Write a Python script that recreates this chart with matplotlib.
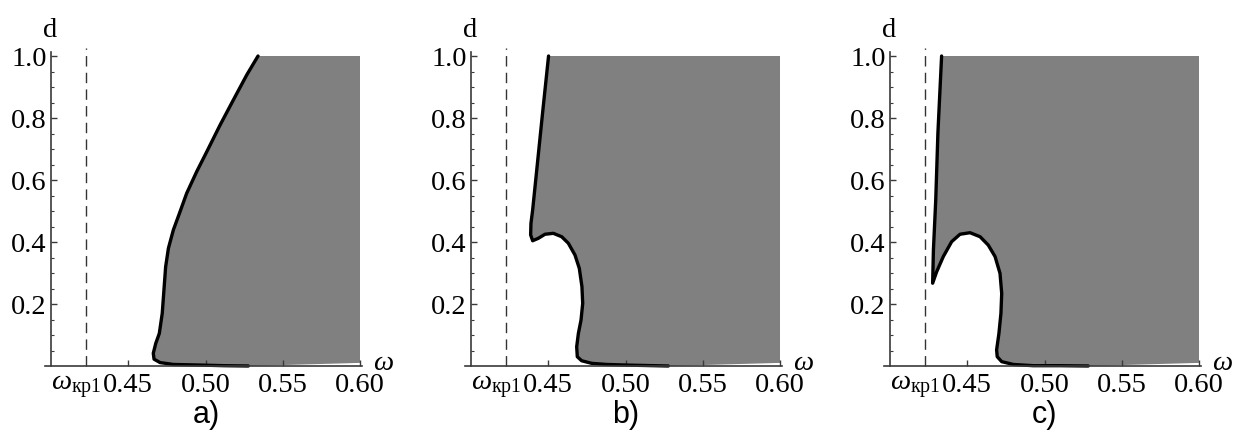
import matplotlib
matplotlib.use("Agg")
import matplotlib.pyplot as plt

plt.rcParams['font.family'] = ['Liberation Serif', 'DejaVu Serif']
plt.rcParams['mathtext.fontset'] = 'custom'
plt.rcParams['mathtext.rm'] = 'Liberation Serif'
plt.rcParams['mathtext.it'] = 'Liberation Serif:italic'

# critical frequency (dashed line)
omega_cr1 = 0.4225
x_ticks = [0.45, 0.50, 0.55, 0.60]
y_ticks = [0.2, 0.4, 0.6, 0.8, 1.0]
panel_labels = ['a)', 'b)', 'c)']

# stability boundary, panel a
w_a = [0.534, 0.5267, 0.5180, 0.5094, 0.5008, 0.4943, 0.4878, 0.4831, 0.4792,
       0.4760, 0.4742, 0.4731, 0.4720, 0.4701, 0.4678, 0.4662, 0.4667, 0.4706,
       0.4792, 0.4964, 0.5120, 0.5277]
d_a = [1.0, 0.939, 0.858, 0.777, 0.691, 0.627, 0.557, 0.492, 0.439,
       0.380, 0.320, 0.245, 0.170, 0.105, 0.073, 0.041, 0.022, 0.011,
       0.005, 0.003, 0.001, 0.0]

# stability boundary, panel b
w_b = [0.4502, 0.4463, 0.4399, 0.4388, 0.4386, 0.4399, 0.4436, 0.4479, 0.4533,
       0.4587, 0.4630, 0.4673, 0.4701, 0.4718, 0.4723, 0.4712, 0.4695, 0.4684,
       0.4688, 0.4716, 0.4781, 0.4878, 0.5008, 0.5094, 0.5277]
d_b = [1.0, 0.815, 0.503, 0.460, 0.423, 0.404, 0.412, 0.425, 0.428,
       0.417, 0.396, 0.358, 0.315, 0.256, 0.202, 0.148, 0.105, 0.062,
       0.030, 0.017, 0.0086, 0.005, 0.003, 0.002, 0.0]

# stability boundary, panel c
w_c = [0.4334, 0.4310, 0.4296, 0.4281, 0.4276, 0.4302, 0.4345, 0.4399, 0.4453,
       0.4518, 0.4583, 0.4636, 0.4680, 0.4712, 0.4723, 0.4718, 0.4705, 0.4690,
       0.4694, 0.4723, 0.4798, 0.4927, 0.5100, 0.5283]
d_c = [1.0, 0.751, 0.535, 0.374, 0.267, 0.304, 0.353, 0.401, 0.425,
       0.430, 0.417, 0.390, 0.353, 0.299, 0.234, 0.170, 0.105, 0.052,
       0.030, 0.014, 0.005, 0.001, 0.001, 0.0]

curves = [(w_a, d_a), (w_b, d_b), (w_c, d_c)]

W, H = 1236, 432
fig = plt.figure(figsize=(W / 100, H / 100), dpi=100)
fig.patch.set_facecolor('white')

px_x = 1545.0   # pixels per unit omega
px_y = 310.0    # pixels per unit d
origins = [51, 471, 890]
xlim = (0.385, 0.625)
ylim = (-0.03, 1.08)

serif = 'Liberation Serif'
tick_fs = 20.5
axis_col = '#3a3a3a'
fill_col = '#808080'

for (w, d), ox, lab in zip(curves, origins, panel_labels):
    left = ox - (0.40 - xlim[0]) * px_x
    width = (xlim[1] - xlim[0]) * px_x
    bottom_top = 366 + (0 - ylim[0]) * px_y
    height = (ylim[1] - ylim[0]) * px_y
    ax = fig.add_axes([left / W, (H - bottom_top) / H, width / W, height / H])
    ax.set_xlim(*xlim)
    ax.set_ylim(*ylim)
    ax.patch.set_alpha(0)

    # unstable region to the right of the boundary
    poly_w = list(w) + [0.60, 0.60]
    poly_d = list(d) + [0.01, 1.0]
    ax.fill(poly_w, poly_d, color=fill_col, lw=0, zorder=1)
    ax.plot(w, d, color='black', lw=2.4, solid_capstyle='round',
            solid_joinstyle='round', zorder=3)

    # critical frequency
    ax.plot([omega_cr1, omega_cr1], [0, 1.026], color='#333333', lw=1.0,
            dashes=(7.5, 4.5), zorder=2)

    for s in ['top', 'right']:
        ax.spines[s].set_visible(False)
    ax.spines['left'].set_position(('data', 0.40))
    ax.spines['bottom'].set_position(('data', 0.0))
    ax.spines['left'].set_bounds(0.0, 1.013)
    ax.spines['bottom'].set_bounds(0.396, 0.6015)
    for s in ['left', 'bottom']:
        ax.spines[s].set_color(axis_col)
        ax.spines[s].set_linewidth(1.2)
        ax.spines[s].set_zorder(4)

    ax.set_xticks(x_ticks)
    ax.set_xticklabels([f'{v:.2f}' for v in x_ticks])
    ax.set_yticks(y_ticks)
    ax.set_yticklabels([f'{v:.1f}' for v in y_ticks])
    ax.set_yticks([0.05 * k for k in range(1, 21) if k % 4 != 0], minor=True)
    ax.tick_params(axis='both', which='major', direction='in', length=4.5,
                   width=1.0, color=axis_col, labelsize=tick_fs)
    ax.tick_params(axis='y', which='minor', direction='in', length=2.5,
                   width=0.8, color=axis_col)
    ax.tick_params(axis='x', pad=5)
    ax.tick_params(axis='y', pad=3)

    # axis names
    ax.text(0.3994, 1.061, 'd', fontsize=tick_fs, family=serif,
            ha='center', va='baseline', clip_on=False)
    ax.text(0.6085, -0.012, 'ω', fontsize=tick_fs, family=serif,
            style='italic', ha='left', va='baseline', clip_on=False)
    ax.text(0.4162, -0.022, r'$\omega_{\mathrm{кр1}}$', fontsize=tick_fs,
            ha='center', va='top', clip_on=False)

    # panel caption
    ax.text(0.5003, -0.184, lab, fontsize=22, family='Liberation Sans',
            ha='center', va='baseline', clip_on=False)

fig.savefig('out.png', dpi=100, facecolor='white')
